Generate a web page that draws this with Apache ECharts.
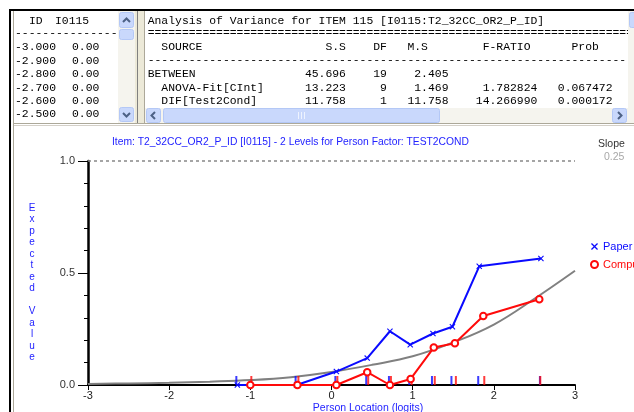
<!DOCTYPE html>
<html><head><meta charset="utf-8">
<script src="https://cdn.jsdelivr.net/npm/echarts@6/dist/echarts.min.js"></script>
<style>html,body{margin:0;padding:0;background:#fff;}#c{width:634px;height:412px;}</style>
</head><body><div id="c"></div>
<script>
// ---------- data ----------
const curveX = [-3, -2.5, -2, -1.5, -1, -0.5, 0, 0.5, 1, 1.5, 2, 2.5, 3];
const curveY = [0.005, 0.007, 0.010, 0.015, 0.022, 0.035, 0.058, 0.090, 0.128, 0.190, 0.270, 0.385, 0.510];
const paperX = [-1.16, -0.43, 0.06, 0.44, 0.72, 0.97, 1.25, 1.49, 1.82, 2.58];
const paperY = [0.00, 0.00, 0.06, 0.12, 0.24, 0.18, 0.23, 0.26, 0.53, 0.565];
const compX  = [-1.00, -0.42, 0.06, 0.44, 0.72, 0.975, 1.26, 1.52, 1.87, 2.56];
const compY  = [0.00, 0.00, 0.00, 0.057, 0.00, 0.027, 0.167, 0.186, 0.308, 0.383];
const xTickLabels = ['-3', '-2', '-1', '0', '1', '2', '3'];
const yTickLabels = ['0.0', '0.5', '1.0'];
const seriesNames = ['Paper', 'Computer'];
const chartTitle = 'Item: T2_32CC_OR2_P_ID [I0115] - 2 Levels for Person Factor: TEST2COND';
const xName = 'Person Location (logits)';
const yName = 'Expected Value';
const slopeLabel = 'Slope';
const slopeValue = '0.25';
// left list panel
const leftHead = ['ID', 'I0115'];
const leftLoc = ['-3.000', '-2.900', '-2.800', '-2.700', '-2.600', '-2.500'];
const leftVal = ['0.00', '0.00', '0.00', '0.00', '0.00', '0.00'];
// ANOVA panel
const anovaTitle = 'Analysis of Variance for ITEM 115 [I0115:T2_32CC_OR2_P_ID]';
const anovaHead = ['SOURCE', 'S.S', 'DF', 'M.S', 'F-RATIO', 'Prob'];
const anovaSource = ['BETWEEN', '  ANOVA-Fit[CInt]', '  DIF[Test2Cond]'];
const anovaSS = ['45.696', '13.223', '11.758'];
const anovaDF = ['19', '9', '1'];
const anovaMS = ['2.405', '1.469', '11.758'];
const anovaF = ['', '1.782824', '14.266990'];
const anovaP = ['', '0.067472', '0.000172'];

// ---------- helpers ----------
function pad(n, ch) { return new Array(n + 1).join(ch); }
function place(line, col, s) {
  while (line.length < col) line += ' ';
  return line.slice(0, col) + s + line.slice(col + s.length);
}
function rplace(line, endCol, s) { return place(line, endCol - s.length, s); }
const hdr = [[2, 'l'], [29, 'r'], [35, 'r'], [38, 'l'], [49, 'l'], [62, 'l']];
let headLine = '';
anovaHead.forEach((h, i) => {
  headLine = hdr[i][1] === 'l' ? place(headLine, hdr[i][0], h) : rplace(headLine, hdr[i][0], h);
});
const anovaLines = [anovaTitle, pad(72, '='), headLine, pad(72, '-')];
anovaSource.forEach((s, i) => {
  let l = place('', 0, s);
  l = rplace(l, 29, anovaSS[i]);
  l = rplace(l, 35, anovaDF[i]);
  l = rplace(l, 44, anovaMS[i]);
  if (anovaF[i]) l = rplace(l, 57, anovaF[i]);
  if (anovaP[i]) l = rplace(l, 68, anovaP[i]);
  anovaLines.push(l);
});

const MONO = '11.4px "Liberation Mono", "Courier New", monospace';
const rowY = k => 20.5 + 13.4 * k;
const g = [];
// window frame
g.push({type: 'rect', shape: {x: 9, y: 9, width: 640, height: 2}, style: {fill: '#000'}});
g.push({type: 'rect', shape: {x: 9, y: 9, width: 2, height: 410}, style: {fill: '#000'}});
g.push({type: 'line', shape: {x1: 13.5, y1: 11, x2: 13.5, y2: 412}, style: {stroke: '#ACA899', lineWidth: 1}});
// left list text
g.push({type: 'text', style: {text: leftHead[0], x: 29, y: rowY(0), font: MONO, fill: '#000', textVerticalAlign: 'middle'}});
g.push({type: 'text', style: {text: leftHead[1], x: 55, y: rowY(0), font: MONO, fill: '#000', textVerticalAlign: 'middle'}});
g.push({type: 'text', style: {text: pad(16, '-'), x: 15, y: rowY(1) - 1, font: MONO, fill: '#000', textVerticalAlign: 'middle'}});
leftLoc.forEach((s, i) => {
  g.push({type: 'text', style: {text: s, x: 15, y: rowY(i + 2), font: MONO, fill: '#000', textVerticalAlign: 'middle'}});
  g.push({type: 'text', style: {text: leftVal[i], x: 72, y: rowY(i + 2), font: MONO, fill: '#000', textVerticalAlign: 'middle'}});
});
// anova text
anovaLines.forEach((s, i) => {
  g.push({type: 'text', style: {text: s, x: 147.7, y: rowY(i) - (i === 1 || i === 3 ? 1 : 0), font: MONO, fill: '#000', textVerticalAlign: 'middle'}});
});
// left vertical scrollbar
g.push({type: 'rect', shape: {x: 118, y: 11, width: 17, height: 112}, style: {fill: '#F5F4EE'}});
function btn(x, y, w, h) {
  g.push({type: 'rect', shape: {x: x + 0.5, y: y + 0.5, width: w - 1, height: h - 1, r: 2}, style: {fill: '#C9D8FC', stroke: '#B4C8F6', lineWidth: 1}});
}
btn(119, 12, 15, 16);
g.push({type: 'polyline', shape: {points: [[123, 22], [126.5, 18.5], [130, 22]]}, style: {stroke: '#4D6185', lineWidth: 2, fill: null}});
btn(119, 29, 15, 11);
btn(119, 107, 15, 15);
g.push({type: 'polyline', shape: {points: [[123, 113], [126.5, 116.5], [130, 113]]}, style: {stroke: '#4D6185', lineWidth: 2, fill: null}});
// splitter between panels
g.push({type: 'rect', shape: {x: 135, y: 11, width: 10, height: 112}, style: {fill: '#ECE9D8'}});
g.push({type: 'line', shape: {x1: 137.5, y1: 11, x2: 137.5, y2: 123}, style: {stroke: '#808080', lineWidth: 1}});
g.push({type: 'line', shape: {x1: 144.5, y1: 11, x2: 144.5, y2: 123}, style: {stroke: '#ACA899', lineWidth: 1}});
// right panel horizontal scrollbar
g.push({type: 'rect', shape: {x: 145, y: 108, width: 490, height: 15}, style: {fill: '#F5F4EE'}});
btn(146, 108, 15, 15);
g.push({type: 'polyline', shape: {points: [[155, 112], [151.5, 115.5], [155, 119]]}, style: {stroke: '#4D6185', lineWidth: 2, fill: null}});
btn(163, 108, 277, 15);
g.push({type: 'line', shape: {x1: 298.5, y1: 112, x2: 298.5, y2: 119}, style: {stroke: '#EEF3FE', lineWidth: 1}});
g.push({type: 'line', shape: {x1: 301.5, y1: 112, x2: 301.5, y2: 119}, style: {stroke: '#EEF3FE', lineWidth: 1}});
g.push({type: 'line', shape: {x1: 304.5, y1: 112, x2: 304.5, y2: 119}, style: {stroke: '#EEF3FE', lineWidth: 1}});
btn(612, 108, 15, 15);
g.push({type: 'polyline', shape: {points: [[618, 112], [621.5, 115.5], [618, 119]]}, style: {stroke: '#4D6185', lineWidth: 2, fill: null}});
// right vertical scrollbar (cut by window edge)
g.push({type: 'rect', shape: {x: 628, y: 11, width: 8, height: 112}, style: {fill: '#F5F4EE'}});
btn(629, 12, 10, 16);
// horizontal splitter below panels
g.push({type: 'line', shape: {x1: 14, y1: 123.5, x2: 634, y2: 123.5}, style: {stroke: '#ACA899', lineWidth: 1}});
g.push({type: 'line', shape: {x1: 14, y1: 125.5, x2: 634, y2: 125.5}, style: {stroke: '#D4D0C8', lineWidth: 1}});
// chart texts
const SANS = '"Liberation Sans", Arial, sans-serif';
g.push({type: 'text', style: {text: chartTitle, x: 112, y: 142, font: '10.3px ' + SANS, fill: '#2323ff', textVerticalAlign: 'middle'}});
g.push({type: 'text', style: {text: slopeLabel, x: 598, y: 144, font: '10.5px ' + SANS, fill: '#333', textVerticalAlign: 'middle'}});
g.push({type: 'text', style: {text: slopeValue, x: 604, y: 157, font: '10.5px ' + SANS, fill: '#a8a8a8', textVerticalAlign: 'middle'}});
g.push({type: 'text', style: {text: yName.split('').join('\n'), x: 32, y: 202, font: '10px ' + SANS, fill: '#2323ff', textAlign: 'center', lineHeight: 11.5}});
g.push({type: 'text', style: {text: xName, x: 368, y: 408, font: '10.5px ' + SANS, fill: '#2323ff', textAlign: 'center', textVerticalAlign: 'middle'}});

const crossPath = 'path://M0,1.3L1.3,0L5,3.7L8.7,0L10,1.3L6.3,5L10,8.7L8.7,10L5,6.3L1.3,10L0,8.7L3.7,5Z';
const BLUE = '#0a0aff', RED = '#ff0a0a';

const chart = echarts.init(document.getElementById('c'), null, {renderer: 'canvas'});
chart.setOption({
  animation: false,
  backgroundColor: '#fff',
  grid: {left: 88, right: 59, top: 161, bottom: 27, containLabel: false},
  xAxis: {
    type: 'value', min: -3, max: 3, interval: 1,
    axisLine: {onZero: false, lineStyle: {color: '#000', width: 2}},
    axisTick: {length: 5, lineStyle: {color: '#000', width: 1}},
    axisLabel: {margin: 5, color: '#222', fontSize: 11, fontFamily: SANS,
      formatter: v => xTickLabels[Math.round(v) + 3]},
    splitLine: {show: false}
  },
  yAxis: {
    type: 'value', min: 0, max: 1, interval: 0.5,
    axisLine: {show: true, onZero: false, lineStyle: {color: '#000', width: 2.5}},
    axisTick: {show: true, length: 10, lineStyle: {color: '#000', width: 1}},
    minorTick: {show: true, splitNumber: 5, length: 4, lineStyle: {color: '#000', width: 1}},
    axisLabel: {margin: 13, color: '#333', fontSize: 11, fontFamily: SANS,
      formatter: v => yTickLabels[Math.round(v * 2)]},
    splitLine: {show: false}
  },
  legend: {
    orient: 'vertical', left: 585, top: 236, itemWidth: 7, itemHeight: 7, itemGap: 7,
    textStyle: {fontSize: 11, fontFamily: SANS},
    data: [
      {name: seriesNames[0], icon: crossPath, textStyle: {color: BLUE}},
      {name: seriesNames[1], icon: 'emptyCircle', textStyle: {color: RED}}
    ]
  },
  graphic: g,
  series: [
    {
      type: 'line', name: 'curve', smooth: 0.4, showSymbol: false, symbol: 'none',
      data: curveX.map((x, i) => [x, curveY[i]]),
      lineStyle: {color: '#808080', width: 2}, z: 2,
      markLine: {silent: true, symbol: 'none', label: {show: false},
        lineStyle: {type: [3, 3], color: '#888', width: 1.5},
        data: [{yAxis: 1}]}
    },
    {
      type: 'scatter', name: 'paperTicks', symbol: 'rect', symbolSize: [2, 9], symbolOffset: [-1, -4.5],
      data: paperX.map(x => [x, 0]), itemStyle: {color: BLUE}, z: 3
    },
    {
      type: 'scatter', name: 'compTicks', symbol: 'rect', symbolSize: [2, 9], symbolOffset: [1, -4.5],
      data: compX.map(x => [x, 0]), itemStyle: {color: RED}, z: 3
    },
    {
      type: 'line', name: seriesNames[0], symbol: crossPath, symbolSize: 6,
      data: paperX.map((x, i) => [x, paperY[i]]),
      lineStyle: {color: BLUE, width: 2}, itemStyle: {color: BLUE}, z: 4
    },
    {
      type: 'line', name: seriesNames[1], symbol: 'emptyCircle', symbolSize: 6.5,
      data: compX.map((x, i) => [x, compY[i]]),
      lineStyle: {color: RED, width: 2}, itemStyle: {color: RED, borderWidth: 1.3}, z: 5
    }
  ]
});
</script></body></html>
